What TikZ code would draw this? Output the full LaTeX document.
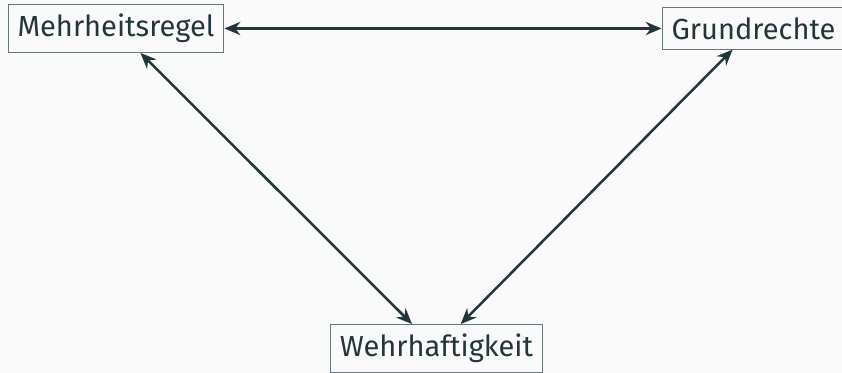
\documentclass[tikz,border=0pt]{standalone}
\usepackage{fontspec}
\setmainfont{Fira Sans}
\usepackage[HTML]{xcolor}
\usepackage{tikz}
\usetikzlibrary{positioning, arrows, arrows.meta}

\definecolor{mDark}{HTML}{23373B}
\definecolor{mFrame}{HTML}{66787B}
\definecolor{mBack}{HTML}{FAFAFA}

\tikzset{
  begriff/.style={draw=mFrame, line width=0.4pt, fill=mBack, text=mDark, inner sep=3.6pt},
  bezug/.style={{Stealth[length=6pt,width=5pt]}-{Stealth[length=6pt,width=5pt]}, line width=0.95pt, mDark}
}

\begin{document}
\begin{tikzpicture}[x=0.3788pt, y=-0.3788pt, font=\fontsize{11}{13}\selectfont]
\fill[mBack] (0,0) rectangle (842,373);
\useasboundingbox (0,0) rectangle (842,373);
\node[begriff] (mehr) at (116,28.5) {Mehrheitsregel};
\node[begriff] (grund) at (753.5,28.5) {Grundrechte};
\node[begriff] (wehr) at (436.5,348.5) {Wehrhaftigkeit};
\draw[bezug] (mehr) -- (grund);
\draw[bezug] (mehr) -- (wehr);
\draw[bezug] (grund) -- (wehr);
\end{tikzpicture}
\end{document}
